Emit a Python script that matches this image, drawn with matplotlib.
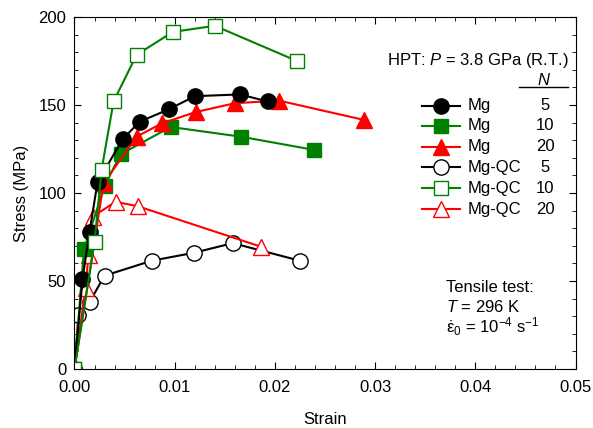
import matplotlib
matplotlib.use('Agg')
import matplotlib.pyplot as plt
from matplotlib.ticker import MultipleLocator

plt.rcParams['font.family'] = ['Liberation Sans', 'DejaVu Sans']
plt.rcParams['mathtext.fontset'] = 'custom'
plt.rcParams['mathtext.rm'] = 'Liberation Sans'
plt.rcParams['mathtext.it'] = 'Liberation Sans:italic'

# data (strain, stress in MPa)
mg5_strain = [0.0, 0.0008, 0.0015, 0.0023, 0.0048, 0.0065, 0.0094, 0.0120, 0.0165, 0.0193]
mg5_stress = [0, 51, 78, 106, 130.5, 140.5, 147.5, 155, 156, 152]

mg10_strain = [0.0, 0.00095, 0.0030, 0.0046, 0.0096, 0.0166, 0.0239]
mg10_stress = [0, 68, 104, 122, 137.5, 132, 124.5]

mg20_strain = [0.0, 0.0029, 0.0062, 0.0087, 0.0121, 0.0160, 0.0204, 0.0289]
mg20_stress = [0, 105.5, 132, 139.5, 146, 151, 152.5, 141.5]

qc5_strain = [0.0, 0.0004, 0.0015, 0.0030, 0.0077, 0.0119, 0.0158, 0.0225]
qc5_stress = [0, 30.5, 38, 53, 61.5, 66, 71.5, 61.5]

qc10_strain = [0.0, 0.0020, 0.0027, 0.0039, 0.0062, 0.0098, 0.0140, 0.0222]
qc10_stress = [0, 72, 113, 152, 178.5, 191.5, 195, 175]

qc20_strain = [0.0, 0.0011, 0.0014, 0.0018, 0.0041, 0.0063, 0.0186]
qc20_stress = [0, 46, 65, 86.5, 95, 92.5, 69.5]

names = ['Mg', 'Mg', 'Mg', 'Mg-QC', 'Mg-QC', 'Mg-QC']
n_passes = ['5', '10', '20', '5', '10', '20']

GREEN = '#008000'
RED = '#ff0000'
FS = 12

fig = plt.figure(figsize=(5.93, 4.28), dpi=100)
ax = fig.add_axes([0.1256, 0.1379, 0.8449, 0.8224])

# colour, marker, face, size
styles = {
    'mg5': ('black', 'o', 'black', 11),
    'mg10': (GREEN, 's', GREEN, 9.5),
    'mg20': (RED, '^', RED, 11),
    'qc5': ('black', 'o', 'white', 11),
    'qc10': (GREEN, 's', 'white', 10),
    'qc20': (RED, '^', 'white', 11),
}
data = {
    'qc5': (qc5_strain, qc5_stress),
    'qc20': (qc20_strain, qc20_stress),
    'mg10': (mg10_strain, mg10_stress),
    'mg20': (mg20_strain, mg20_stress),
    'mg5': (mg5_strain, mg5_stress),
    'qc10': (qc10_strain, qc10_stress),
}
for key, (xs, ys) in data.items():
    c, m, fc, ms = styles[key]
    ax.plot(xs, ys, color=c, lw=1.5, marker=m, ms=ms, mfc=fc, mec=c, mew=1.0)

ax.set_xlim(0, 0.05)
ax.set_ylim(0, 200)
ax.xaxis.set_major_locator(MultipleLocator(0.01))
ax.xaxis.set_minor_locator(MultipleLocator(0.002))
ax.yaxis.set_major_locator(MultipleLocator(50))
ax.yaxis.set_minor_locator(MultipleLocator(10))
ax.xaxis.set_major_formatter(plt.FuncFormatter(lambda v, p: f'{v:.2f}'))
ax.tick_params(which='both', direction='in', top=True, right=True, labelsize=FS)
ax.tick_params(which='major', length=5)
ax.tick_params(axis='x', which='major', pad=8)
ax.tick_params(axis='y', which='major', pad=6)
ax.tick_params(which='minor', length=3)
ax.set_xlabel('Strain', fontsize=FS, labelpad=12)
ax.set_ylabel('Stress (MPa)', fontsize=FS, labelpad=7)


def ax_xy(px, py):
    # reference pixel -> axes fraction
    return (px - 74.5) / 501.0, (369.0 - py) / 352.0


# hand-built legend
row_y = [106, 126, 146.7, 167.5, 188.3, 209.3]
keys = ['mg5', 'mg10', 'mg20', 'qc5', 'qc10', 'qc20']
for key, name, n, py in zip(keys, names, n_passes, row_y):
    c, m, fc, ms = styles[key]
    x0, y0 = ax_xy(422, py)
    x1, _ = ax_xy(460, py)
    xm, _ = ax_xy(441, py)
    ax.plot([x0, x1], [y0, y0], transform=ax.transAxes, color=c, lw=1.5, clip_on=False)
    ax.plot([xm], [y0], transform=ax.transAxes, marker=m, ms=ms, mfc=fc, mec=c,
            mew=1.0, clip_on=False)
    xt, _ = ax_xy(468, py)
    ax.text(xt, y0, name, transform=ax.transAxes, ha='left', va='center', fontsize=FS)
    xn, _ = ax_xy(545, py)
    ax.text(xn, y0, n, transform=ax.transAxes, ha='center', va='center', fontsize=FS)

hx, hy = ax_xy(569, 61)
ax.text(hx, hy, 'HPT: $P$ = 3.8 GPa (R.T.)', transform=ax.transAxes,
        ha='right', va='center', fontsize=FS)
nx, ny = ax_xy(544, 80)
ax.text(nx, ny, '$N$', transform=ax.transAxes, ha='center', va='center', fontsize=FS)
ux0, uy = ax_xy(519, 87.5)
ux1, _ = ax_xy(568, 87.5)
ax.plot([ux0, ux1], [uy, uy], transform=ax.transAxes, color='black', lw=1.0, clip_on=False)

notes = ['Tensile test:', '$T$ = 296 K', '$\\dot{\\mathrm{ε}}_0$ = 10$^{-4}$ s$^{-1}$']
for line, py in zip(notes, [288, 307, 326.5]):
    tx, ty = ax_xy(446.5, py)
    ax.text(tx, ty, line, transform=ax.transAxes, ha='left', va='center', fontsize=FS)

fig.savefig('out.png', dpi=100)
